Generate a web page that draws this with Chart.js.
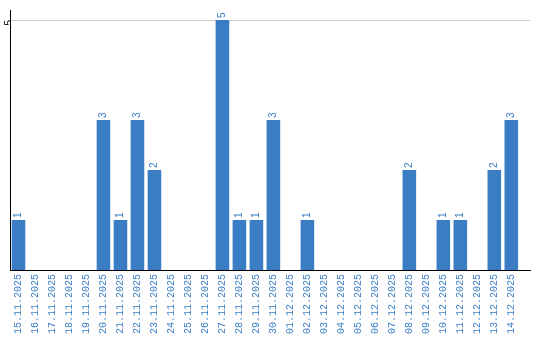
<!DOCTYPE html>
<html>
<head>
<meta charset="utf-8">
<script src="https://cdn.jsdelivr.net/npm/chart.js@4"></script>
<style>
  html, body { margin: 0; padding: 0; background: #fff; }
  #wrap { width: 540px; height: 340px; position: relative; }
</style>
</head>
<body>
<div id="wrap"><canvas id="chart"></canvas></div>
<script>
// dates on the x axis
const days = [
  "15.11.2025", "16.11.2025", "17.11.2025", "18.11.2025", "19.11.2025",
  "20.11.2025", "21.11.2025", "22.11.2025", "23.11.2025", "24.11.2025",
  "25.11.2025", "26.11.2025", "27.11.2025", "28.11.2025", "29.11.2025",
  "30.11.2025", "01.12.2025", "02.12.2025", "03.12.2025", "04.12.2025",
  "05.12.2025", "06.12.2025", "07.12.2025", "08.12.2025", "09.12.2025",
  "10.12.2025", "11.12.2025", "12.12.2025", "13.12.2025", "14.12.2025"
];
// count per day
const counts = [
  1, 0, 0, 0, 0,
  3, 1, 3, 2, 0,
  0, 0, 5, 1, 1,
  3, 0, 1, 0, 0,
  0, 0, 0, 2, 0,
  1, 1, 0, 2, 3
];
const yTicks = [5];

const blue = "#3b7dc4";

// small rotated value above each non-zero bar
const barLabels = {
  id: "barLabels",
  afterDatasetsDraw(chart) {
    const ctx = chart.ctx;
    const meta = chart.getDatasetMeta(0);
    ctx.save();
    ctx.fillStyle = blue;
    ctx.font = "10px 'Liberation Sans', Arial, sans-serif";
    ctx.textAlign = "left";
    ctx.textBaseline = "middle";
    meta.data.forEach((bar, i) => {
      if (!counts[i]) return;
      ctx.save();
      ctx.translate(bar.x, bar.y - 2);
      ctx.rotate(-Math.PI / 2);
      ctx.fillText(String(counts[i]), 0, 0);
      ctx.restore();
    });
    ctx.restore();
  }
};

new Chart(document.getElementById("chart"), {
  type: "bar",
  data: {
    labels: days,
    datasets: [{
      data: counts,
      backgroundColor: blue,
      borderWidth: 0,
      categoryPercentage: 0.8,
      barPercentage: 1
    }]
  },
  options: {
    responsive: true,
    maintainAspectRatio: false,
    animation: false,
    layout: { padding: { top: 10, right: 10, left: 0, bottom: 0 } },
    plugins: {
      legend: { display: false },
      tooltip: { enabled: false }
    },
    scales: {
      x: {
        // a little empty room after the last day
        afterBuildTicks: (s) => { s._valueRange = days.length + 0.6; },
        afterFit: (s) => { s.height = 70; },
        grid: { display: false },
        border: { display: true, color: "#000", width: 1 },
        ticks: {
          color: blue,
          font: { family: "'Liberation Mono', 'DejaVu Sans Mono', monospace", size: 10 },
          minRotation: 90,
          maxRotation: 90,
          autoSkip: false,
          padding: -4
        }
      },
      y: {
        min: 0,
        max: 5.2,
        afterBuildTicks: (s) => { s.ticks = yTicks.map(v => ({ value: v })); },
        afterFit: (s) => { s.width = 10; },
        grid: { color: "#cccccc", drawTicks: false },
        border: { display: true, color: "#000", width: 1 },
        ticks: {
          color: "#000",
          font: { family: "'Liberation Sans', sans-serif", size: 10 },
          minRotation: 90,
          maxRotation: 90,
          padding: 1
        }
      }
    }
  },
  plugins: [barLabels]
});
</script>
</body>
</html>
